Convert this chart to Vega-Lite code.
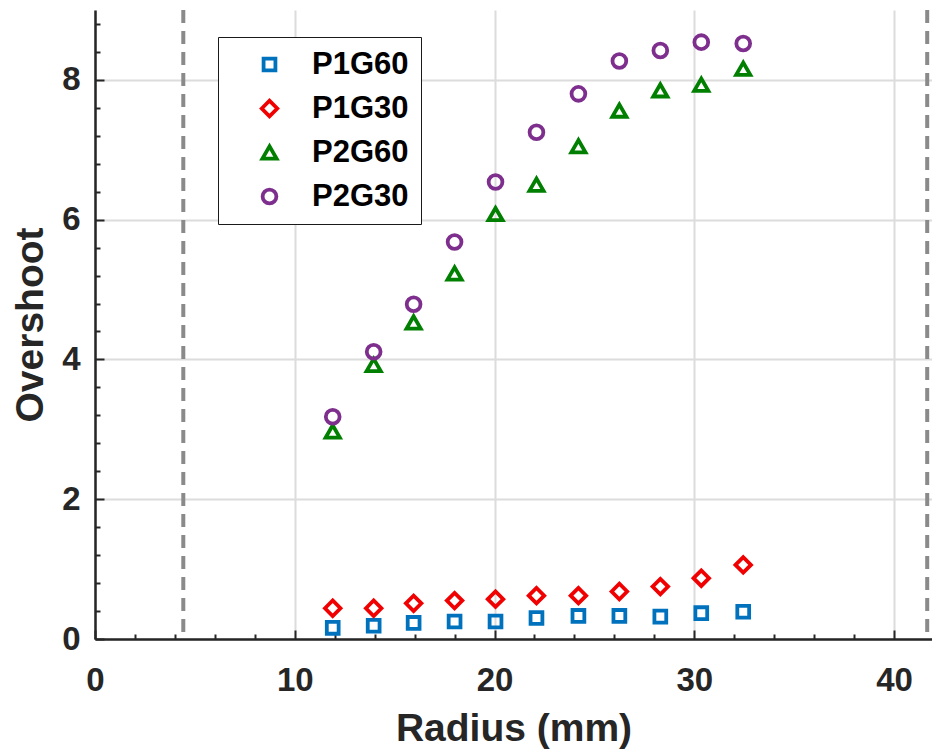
{
  "$schema": "https://vega.github.io/schema/vega-lite/v6.json",
  "width": 837,
  "height": 629,
  "autosize": {"type": "none"},
  "padding": {"left": 95, "top": 10, "right": 0, "bottom": 111},
  "background": "white",
  "config": {
    "view": {"stroke": null},
    "font": "Liberation Sans",
    "axis": {
      "domainColor": "#262626",
      "domainWidth": 2.5,
      "tickColor": "#262626",
      "tickWidth": 2,
      "labelFont": "Liberation Sans",
      "labelFontWeight": "bold",
      "labelFontSize": 33,
      "labelColor": "#262626",
      "labelFlush": false,
      "titleFont": "Liberation Sans",
      "titleFontWeight": "bold",
      "titleFontSize": 39,
      "titleColor": "#262626",
      "gridColor": "#dcdcdc",
      "gridWidth": 2
    }
  },
  "datasets": {
    "pts": [
      {"r": 11.9, "s": "P1G60", "v": 0.16}, {"r": 13.95, "s": "P1G60", "v": 0.19}, {"r": 15.95, "s": "P1G60", "v": 0.23}, {"r": 18.0, "s": "P1G60", "v": 0.25}, {"r": 20.05, "s": "P1G60", "v": 0.25}, {"r": 22.1, "s": "P1G60", "v": 0.30}, {"r": 24.2, "s": "P1G60", "v": 0.33}, {"r": 26.25, "s": "P1G60", "v": 0.33}, {"r": 28.3, "s": "P1G60", "v": 0.32}, {"r": 30.35, "s": "P1G60", "v": 0.37}, {"r": 32.45, "s": "P1G60", "v": 0.39},
      {"r": 11.9, "s": "P1G30", "v": 0.44}, {"r": 13.95, "s": "P1G30", "v": 0.44}, {"r": 15.95, "s": "P1G30", "v": 0.51}, {"r": 18.0, "s": "P1G30", "v": 0.55}, {"r": 20.05, "s": "P1G30", "v": 0.57}, {"r": 22.1, "s": "P1G30", "v": 0.62}, {"r": 24.2, "s": "P1G30", "v": 0.62}, {"r": 26.25, "s": "P1G30", "v": 0.68}, {"r": 28.3, "s": "P1G30", "v": 0.75}, {"r": 30.35, "s": "P1G30", "v": 0.87}, {"r": 32.45, "s": "P1G30", "v": 1.06},
      {"r": 11.9, "s": "P2G60", "v": 2.97}, {"r": 13.95, "s": "P2G60", "v": 3.92}, {"r": 15.95, "s": "P2G60", "v": 4.53}, {"r": 18.0, "s": "P2G60", "v": 5.23}, {"r": 20.05, "s": "P2G60", "v": 6.08}, {"r": 22.1, "s": "P2G60", "v": 6.50}, {"r": 24.2, "s": "P2G60", "v": 7.05}, {"r": 26.25, "s": "P2G60", "v": 7.56}, {"r": 28.3, "s": "P2G60", "v": 7.85}, {"r": 30.35, "s": "P2G60", "v": 7.93}, {"r": 32.45, "s": "P2G60", "v": 8.16},
      {"r": 11.9, "s": "P2G30", "v": 3.18}, {"r": 13.95, "s": "P2G30", "v": 4.11}, {"r": 15.95, "s": "P2G30", "v": 4.79}, {"r": 18.0, "s": "P2G30", "v": 5.68}, {"r": 20.05, "s": "P2G30", "v": 6.54}, {"r": 22.1, "s": "P2G30", "v": 7.25}, {"r": 24.2, "s": "P2G30", "v": 7.80}, {"r": 26.25, "s": "P2G30", "v": 8.27}, {"r": 28.3, "s": "P2G30", "v": 8.42}, {"r": 30.35, "s": "P2G30", "v": 8.54}, {"r": 32.45, "s": "P2G30", "v": 8.52}
    ],
    "lines": [{"r": 4.42}, {"r": 41.66}]
  },
  "resolve": {"axis": {"x": "independent", "y": "independent"}},
  "layer": [
    {
      "data": {"name": "lines"},
      "mark": {"type": "rule", "color": "#8a8a8a", "strokeWidth": 4, "strokeDash": [13, 8]},
      "encoding": {
        "x": {"field": "r", "type": "quantitative", "scale": {"domain": [0, 41.9], "nice": false, "zero": false}, "axis": null}
      }
    },
    {
      "data": {"name": "pts"},
      "mark": {"type": "point", "filled": false, "strokeWidth": 3.8, "opacity": 1},
      "encoding": {
        "x": {
          "field": "r", "type": "quantitative",
          "scale": {"domain": [0, 41.9], "nice": false, "zero": false},
          "axis": {"orient": "bottom", "values": [0, 10, 20, 30, 40], "title": "Radius (mm)", "grid": true, "ticks": false, "labelPadding": 25, "titlePadding": 12}
        },
        "y": {
          "field": "v", "type": "quantitative",
          "scale": {"domain": [0, 9], "nice": false},
          "axis": {"orient": "left", "values": [0, 2, 4, 6, 8], "title": "Overshoot", "grid": true, "ticks": false, "labelPadding": 15, "titlePadding": 11}
        },
        "color": {
          "field": "s", "type": "nominal",
          "scale": {"domain": ["P1G60", "P1G30", "P2G60", "P2G30"], "range": ["#0072BD", "#F00000", "#007F00", "#7E2F8E"]},
          "legend": {
            "orient": "none", "legendX": 123, "legendY": 27, "title": null,
            "strokeColor": "#1a1a1a", "fillColor": "white", "padding": 12,
            "labelFont": "Liberation Sans", "labelFontWeight": "bold", "labelFontSize": 31, "labelColor": "black", "labelLimit": 300,
            "symbolSize": 130, "symbolStrokeWidth": 3.8, "symbolOpacity": 1, "rowPadding": 12, "symbolOffset": 24, "labelOffset": 27,
            "encode": {"legend": {"update": {"strokeWidth": {"value": 2.5}}}}
          }
        },
        "shape": {
          "field": "s", "type": "nominal",
          "scale": {"domain": ["P1G60", "P1G30", "P2G60", "P2G30"], "range": ["square", "diamond", "triangle-up", "circle"]}
        },
        "size": {
          "field": "s", "type": "nominal",
          "scale": {"type": "ordinal", "domain": ["P1G60", "P1G30", "P2G60", "P2G30"], "range": [140, 240, 200, 190]},
          "legend": null
        }
      }
    },
    {
      "data": {"name": "pts"},
      "mark": {"type": "point", "opacity": 0},
      "encoding": {
        "x": {
          "field": "r", "type": "quantitative",
          "scale": {"domain": [0, 41.9], "nice": false, "zero": false},
          "axis": {"orient": "bottom", "values": [0, 2, 4, 6, 8, 10, 12, 14, 16, 18, 20, 22, 24, 26, 28, 30, 32, 34, 36, 38, 40], "title": null, "labels": false, "domain": false, "grid": false, "ticks": true,
            "tickSize": {"condition": {"test": "datum.value % 10 === 0", "value": -9}, "value": -5}}
        },
        "y": {
          "field": "v", "type": "quantitative",
          "scale": {"domain": [0, 9], "nice": false},
          "axis": {"orient": "left", "values": [0, 0.4, 0.8, 1.2, 1.6, 2, 2.4, 2.8, 3.2, 3.6, 4, 4.4, 4.8, 5.2, 5.6, 6, 6.4, 6.8, 7.2, 7.6, 8, 8.4, 8.8], "title": null, "labels": false, "domain": false, "grid": false, "ticks": true,
            "tickSize": {"condition": {"test": "datum.value % 2 === 0", "value": -9}, "value": -5}}
        }
      }
    }
  ]
}
